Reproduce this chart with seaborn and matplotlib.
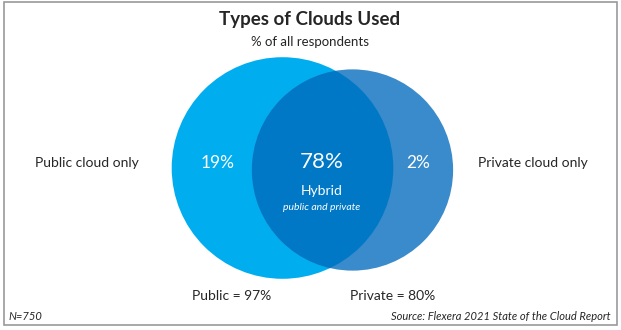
import matplotlib
matplotlib.use("Agg")
import matplotlib.pyplot as plt
from matplotlib.patches import Circle, Rectangle
import numpy as np
import seaborn as sns

# Survey shares (% of all respondents)
set_names = ["Public", "Private"]
set_totals = [97, 80]
region_labels = ["Public cloud only", "Hybrid", "Private cloud only"]
region_values = [19, 78, 2]
colors = ["#00AEEF", "#3A8BCB", "#0078C6"]

sns.set_theme(style="white")
plt.rcParams["font.family"] = ["Lato", "DejaVu Sans"]

fig = plt.figure(figsize=(6.21, 3.30), dpi=100)
ax = fig.add_axes([0, 0, 1, 1])
ax.set_xlim(0, 621)
ax.set_ylim(330, 0)
ax.set_aspect("equal")
ax.axis("off")

# circle areas proportional to set totals
scale = 11.25
radii = [scale * np.sqrt(v) for v in set_totals]
centers = [(282.5, 168.0), (352.5, 170.0)]

c_pub = Circle(centers[0], radii[0], facecolor=colors[0], edgecolor="none", zorder=2)
c_priv = Circle(centers[1], radii[1], facecolor=colors[1], edgecolor="none", zorder=2)
ax.add_patch(c_pub)
ax.add_patch(c_priv)
# overlap region: public circle clipped to the private one
overlap = Circle(centers[0], radii[0], facecolor=colors[2], edgecolor="none", zorder=3)
ax.add_patch(overlap)
clip = Circle(centers[1], radii[1], transform=ax.transData)
overlap.set_clip_path(clip)

# frame
ax.add_patch(Rectangle((4, 2), 613, 323, fill=False, edgecolor="#9a9a9a", lw=1.2, zorder=1))

dark = "#262626"
ax.text(310, 20, "Types of Clouds Used", ha="center", va="center", fontsize=13.5,
        fontweight="bold", color=dark)
ax.text(310, 42, "% of all respondents", ha="center", va="center", fontsize=9.5, color=dark)

ax.text(87, 163, region_labels[0], ha="center", va="center", fontsize=10, color=dark)
ax.text(533, 163, region_labels[2], ha="center", va="center", fontsize=10, color=dark)

ax.text(218, 163, f"{region_values[0]}%", ha="center", va="center", fontsize=12.5,
        color="white", zorder=5)
ax.text(322, 162, f"{region_values[1]}%", ha="center", va="center", fontsize=16,
        color="white", zorder=5)
ax.text(322, 191, region_labels[1], ha="center", va="center", fontsize=10,
        color="white", zorder=5)
ax.text(322, 207, "public and private", ha="center", va="center", fontsize=7.5,
        style="italic", color="white", zorder=5)
ax.text(418, 163, f"{region_values[2]}%", ha="center", va="center", fontsize=12.5,
        color="white", zorder=5)

ax.text(232, 296, f"{set_names[0]} = {set_totals[0]}%", ha="center", va="center",
        fontsize=10, color=dark)
ax.text(393, 296, f"{set_names[1]} = {set_totals[1]}%", ha="center", va="center",
        fontsize=10, color=dark)

ax.text(8, 316, "N=750", ha="left", va="center", fontsize=8, style="italic", color=dark)
ax.text(611, 316, "Source: Flexera 2021 State of the Cloud Report", ha="right",
        va="center", fontsize=8, style="italic", color=dark)

fig.savefig("out.png", dpi=100)
